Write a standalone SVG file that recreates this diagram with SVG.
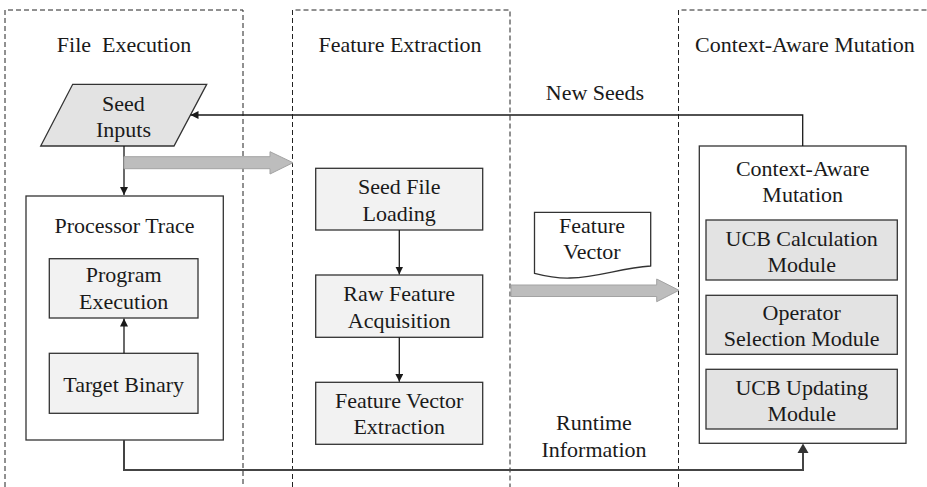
<svg xmlns="http://www.w3.org/2000/svg" width="927" height="487" viewBox="0 0 927 487">
<defs>
<style>
text{font-family:"Liberation Serif","Times New Roman",serif;font-size:22px;fill:#1a1a1a;text-anchor:middle}
.lane{fill:none;stroke:#222;stroke-width:1;stroke-dasharray:5,3}
.box{fill:#f2f2f2;stroke:#333;stroke-width:1.3}
.dark{fill:#e3e3e3;stroke:#333;stroke-width:1.3}
.white{fill:#fff;stroke:#333;stroke-width:1.3}
.ln{fill:none;stroke:#1a1a1a;stroke-width:1.3}
.ln2{fill:none;stroke:#444;stroke-width:2}
.big{fill:#bdbdbd;stroke:#a3a3a3;stroke-width:1}
</style>
<marker id="ah" viewBox="0 0 10 10" refX="10" refY="5" markerWidth="8" markerHeight="8" markerUnits="userSpaceOnUse" orient="auto"><path d="M0,0 L10,5 L0,10 z" fill="#1a1a1a"/></marker>
</defs>
<rect width="927" height="487" fill="#fff"/>
<g id="lanes">
<path class="lane" d="M5,487 V10 H243 V487"/>
<path class="lane" d="M292.5,487 V10 H510 V487"/>
<path class="lane" d="M678.5,487 V10 H927"/>
<text x="124" y="52" xml:space="preserve">File  Execution</text>
<text x="400" y="52">Feature Extraction</text>
<text x="805" y="52">Context-Aware Mutation</text>
</g>
<g id="seed-inputs">
<polygon class="dark" points="72.7,84.3 206.7,84.3 174,146 40.7,146"/>
<text x="123.5" y="110.5">Seed</text>
<text x="123.5" y="136.5">Inputs</text>
</g>
<g id="processor-trace">
<rect class="white" x="26" y="196" width="197.3" height="244"/>
<text x="124.5" y="233">Processor Trace</text>
</g>
<g id="program-execution">
<rect class="box" x="49.3" y="258.7" width="148.7" height="59.3"/>
<text x="123.7" y="281.5">Program</text>
<text x="123.7" y="309">Execution</text>
</g>
<g id="target-binary">
<rect class="box" x="49.3" y="353.3" width="148.7" height="60"/>
<text x="123.7" y="391.5">Target Binary</text>
</g>
<g id="seed-file-loading">
<rect class="box" x="315.7" y="168.3" width="167" height="61.7"/>
<text x="399.2" y="194.3">Seed File</text>
<text x="399.2" y="221">Loading</text>
</g>
<g id="raw-feature">
<rect class="box" x="315.7" y="275" width="167" height="62.3"/>
<text x="399.2" y="301">Raw Feature</text>
<text x="399.2" y="327.7">Acquisition</text>
</g>
<g id="feature-vector-extraction">
<rect class="box" x="315.7" y="382.3" width="167" height="62"/>
<text x="399.2" y="408.3">Feature Vector</text>
<text x="399.2" y="434">Extraction</text>
</g>
<g id="feature-vector-doc">
<path class="white" d="M534.5,212.3 H650.7 V266 C620,268 600,277 570,278 C555,278.5 545,276 534.5,273.3 Z"/>
<text x="592" y="233.3">Feature</text>
<text x="592" y="259.3">Vector</text>
</g>
<g id="context-aware-mutation">
<rect class="white" x="699.3" y="146" width="206.7" height="297.3"/>
<text x="802.7" y="175.7">Context-Aware</text>
<text x="802.7" y="202.3">Mutation</text>
</g>
<g id="ucb-calc">
<rect class="dark" x="706" y="220" width="191.3" height="60"/>
<text x="801.7" y="245.7">UCB Calculation</text>
<text x="801.7" y="271.7">Module</text>
</g>
<g id="operator-selection">
<rect class="dark" x="706" y="295.3" width="191.3" height="59"/>
<text x="801.7" y="320">Operator</text>
<text x="801.7" y="346">Selection Module</text>
</g>
<g id="ucb-updating">
<rect class="dark" x="706" y="369.3" width="191.3" height="59.7"/>
<text x="801.7" y="395">UCB Updating</text>
<text x="801.7" y="420.7">Module</text>
</g>
<g id="connectors">
<path class="ln" d="M124,146 V195" marker-end="url(#ah)"/>
<path class="ln" d="M124,353.3 V318.5" marker-end="url(#ah)"/>
<path class="ln" d="M399.3,230 V274.5" marker-end="url(#ah)"/>
<path class="ln" d="M399.3,337.3 V381.8" marker-end="url(#ah)"/>
<path class="ln" d="M802.7,146 V115 H190.5" marker-end="url(#ah)"/>
<path class="ln2" d="M124,440 V470 H803 V452"/>
<path d="M797.5,453 L803,443.6 L808.5,453 z" fill="#333"/>
<polygon class="big" points="124,156.7 270,156.7 270,151.7 293,162.7 270,174 270,168.7 124,168.7"/>
<polygon class="big" points="511,285 656.7,285 656.7,279 679,290.3 656.7,301.7 656.7,296.5 511,296.5"/>
<text x="595" y="100">New Seeds</text>
<text x="594" y="430">Runtime</text>
<text x="594" y="456.5">Information</text>
</g>
</svg>
